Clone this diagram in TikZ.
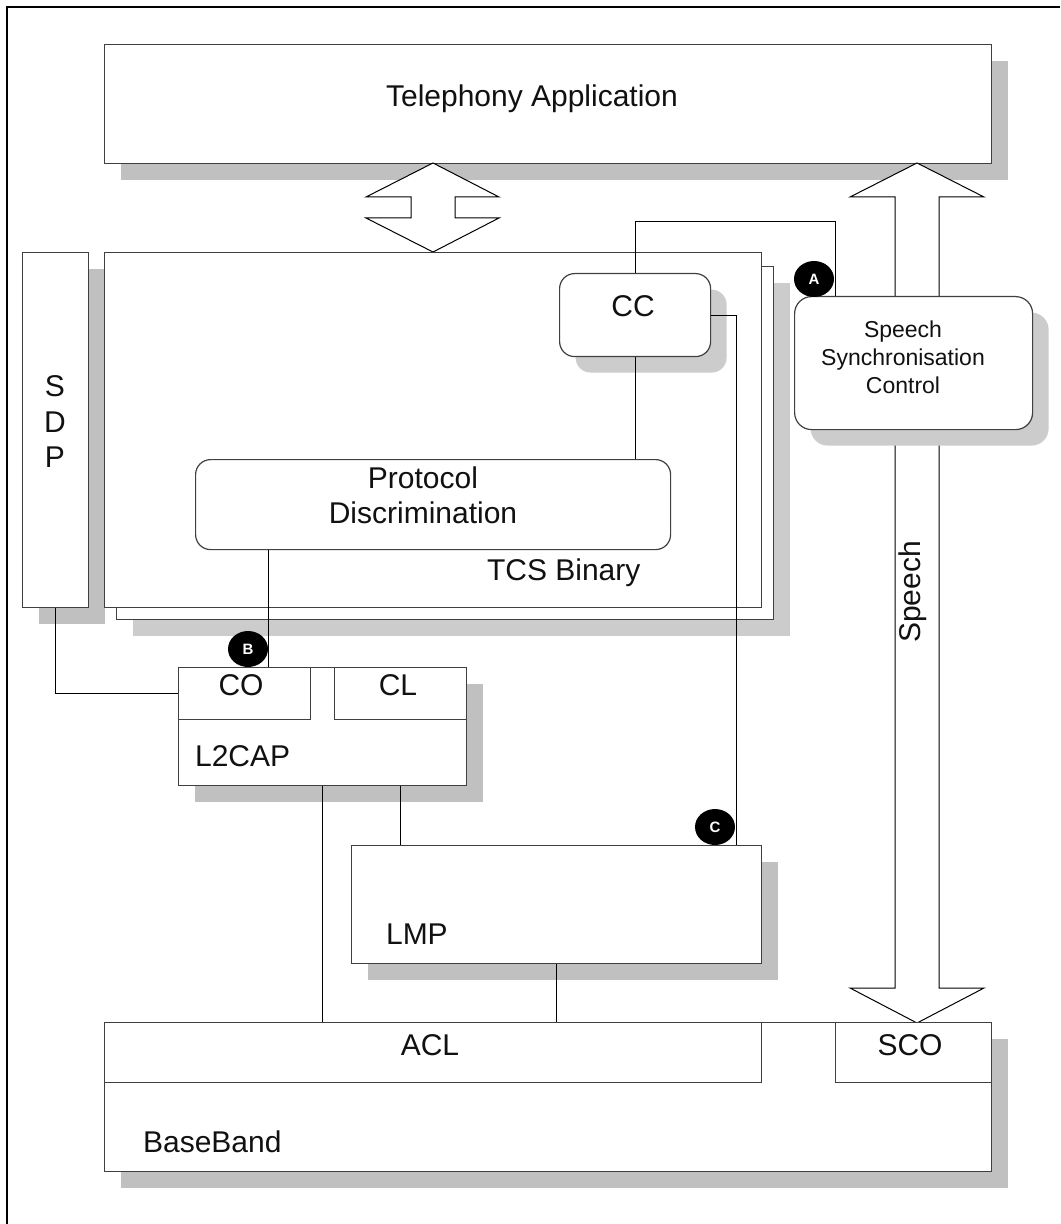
\documentclass[tikz,border=0pt]{standalone}
\usepackage{fontspec}
\setmainfont{Liberation Sans}
\usetikzlibrary{shapes.geometric,shadows}
\definecolor{stackink}{HTML}{111111}
\definecolor{stackline}{HTML}{404040}
\definecolor{stackshade}{HTML}{C0C0C0}
\definecolor{stackshadelight}{HTML}{CCCCCC}

\begin{document}
\begin{tikzpicture}[
  x=0.5pt,
  y=-0.5pt,
  every node/.style={font=\fontsize{15}{17.75}\selectfont, stackink},
  outerframe/.style={black, line width=1.2pt},
  box/.style={draw=stackline, line width=0.6pt, fill=white, inner sep=0pt, anchor=north west},
  roundbox/.style={box, rounded corners=7.5pt},
  castshadow/.style={general shadow={fill=stackshade, shadow xshift=8pt, shadow yshift=-8pt}},
  castshadowlight/.style={general shadow={fill=stackshadelight, shadow xshift=8pt, shadow yshift=-8pt}},
  wire/.style={black, line width=0.5pt},
  blockarrow/.style={draw=black, line width=0.5pt, fill=white, line join=miter},
  marker/.style={ellipse, fill=black, minimum width=20pt, minimum height=18pt, inner sep=0pt,
    font=\fontsize{7.5}{8}\selectfont\bfseries, text=white}
]
  \useasboundingbox (0,0) rectangle (1060,1224);

  %% ---- 外框 -----------------------------------------------------------
  \draw[outerframe] (7,1224) -- (7,7) -- (1060,7);

  %% ---- 應用層 + 兩個大箭頭 -------------------------------------------
  \node[box, castshadow, minimum width=443.5pt, minimum height=59.5pt] (tel) at (104,44) {};
  \node[anchor=base] (telText) at (532,107) {Telephony Application};

  \draw[blockarrow] (433,163) -- (499,197) -- (455,197) -- (455,218) -- (499,218)
    -- (433,252) -- (366,218) -- (411,218) -- (411,197) -- (366,197) -- cycle;
  \draw[blockarrow] (917,163) -- (984,197) -- (939,197) -- (939,988) -- (984,988)
    -- (917,1023) -- (850,988) -- (895,988) -- (895,197) -- (850,197) -- cycle;
  \node[rotate=90, anchor=base] (speechText) at (920,592) {Speech};

  %% ---- SDP 與 TCS Binary ---------------------------------------------
  \node[box, castshadow, minimum width=33pt, minimum height=177.5pt] (sdp) at (22,252) {};
  \node[align=center] (sdpText) at (55,422) {S\\D\\P};

  \node[box, castshadowlight, minimum width=328.5pt, minimum height=176.5pt] (tcsBack) at (116,266) {};
  \node[box, minimum width=328.5pt, minimum height=177.5pt] (tcs) at (104,252) {};
  \node[anchor=base west] (tcsText) at (480,580) {TCS Binary};

  \node[roundbox, castshadowlight, minimum width=75.5pt, minimum height=41.5pt] (cc) at (559,273) {};
  \node[anchor=base] (ccText) at (633,317) {CC};

  \node[roundbox, minimum width=237.5pt, minimum height=45pt] (pd) at (195,459) {};
  \node[align=center, font=\fontsize{15}{17.5}\selectfont] (pdText) at (423,495)
    {Protocol\\Discrimination};

  \node[roundbox, castshadowlight, rounded corners=8.5pt, minimum width=119pt,
    minimum height=66.5pt] (ssc) at (794,296) {};
  \node[align=center, font=\fontsize{11.5}{14}\selectfont] (sscText) at (903,357)
    {Speech\\Synchronisation\\Control};

  %% ---- L2CAP, LMP, BaseBand ------------------------------------------
  \node[box, castshadow, minimum width=144pt, minimum height=59pt] (l2cap) at (178,667) {};
  \node[box, minimum width=66pt, minimum height=26pt] (co) at (178,667) {};
  \node[box, minimum width=66pt, minimum height=26pt] (cl) at (334,667) {};
  \node[anchor=base] (coText) at (241,695) {CO};
  \node[anchor=base] (clText) at (398,695) {CL};
  \node[anchor=base west] (l2capText) at (188,766) {L2CAP};

  \node[box, castshadow, minimum width=205pt, minimum height=59pt] (lmp) at (351,845) {};
  \node[anchor=base west] (lmpText) at (379,944) {LMP};

  \node[box, castshadow, minimum width=443.5pt, minimum height=74.5pt] (bb) at (104,1022) {};
  \node[box, minimum width=328.5pt, minimum height=30pt] (acl) at (104,1022) {};
  \node[box, minimum width=78pt, minimum height=30pt] (sco) at (835,1022) {};
  \node[anchor=base] (aclText) at (430,1055) {ACL};
  \node[anchor=base] (scoText) at (910,1055) {SCO};
  \node[anchor=base west] (bbText) at (136,1152) {BaseBand};

  %% ---- 標記 A/B/C -------------------------------------------------------
  \foreach \tag/\px/\py in {A/814/279, B/248/649, C/715/827}
    \node[marker] (mark\tag) at (\px,\py) {\tag};

  %% ---- 連線 -------------------------------------------------------------
  \coordinate (ccTurn) at (835,222);
  \draw[wire] (cc.north) |- (ccTurn) -- (ccTurn |- ssc.north);
  \draw[wire] (cc.east) -| (lmp.north -| 736,0);
  \draw[wire] (cc.south) -- (cc.south |- pd.north);
  \draw[wire] (pd.south -| 268,0) -- (co.north -| 268,0);
  \draw[wire] (sdp.south) |- (co.west);
  \draw[wire] (l2cap.south -| 322,0) -- (acl.north -| 322,0);
  \draw[wire] (l2cap.south -| 400,0) -- (lmp.north -| 400,0);
  \draw[wire] (lmp.south -| 556,0) -- (acl.north -| 556,0);

\end{tikzpicture}
\end{document}
